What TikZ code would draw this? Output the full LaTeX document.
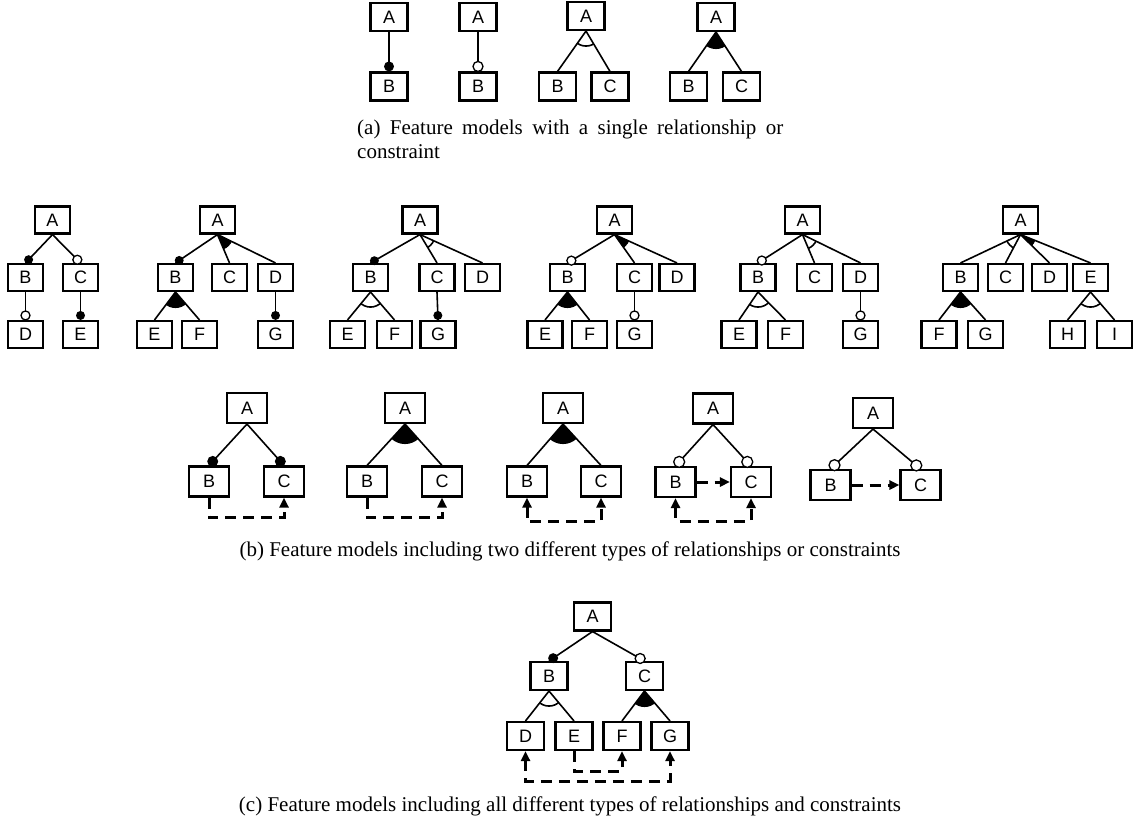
\documentclass[tikz,border=0pt]{standalone}
\usepackage{fontspec}
\setmainfont{Liberation Serif}
\setsansfont{Liberation Sans}
\usetikzlibrary{calc,arrows.meta}
\tikzset{
 fbox/.style={draw, line width=2.1pt, fill=white, inner sep=0pt, minimum width=37pt, minimum height=28pt, font=\fontsize{18}{18}\selectfont\sffamily},
 fboxb/.style={fbox, minimum width=35pt, minimum height=27pt},
 fboxl/.style={fbox, minimum width=40pt, minimum height=30pt},
 edge/.style={line width=1.6pt},
 cons/.style={line width=3pt, dash pattern=on 11pt off 7pt},
 req/.style={cons, -{Triangle[length=10pt,width=9pt]}},
 excl/.style={cons, {Triangle[length=10pt,width=9pt]}-{Triangle[length=10pt,width=9pt]}},
 caption/.style={font=\fontsize{21}{24}\selectfont, inner sep=0pt},
}
\newcommand\FMedge[2]{\draw[edge] (#1.south) -- (#2.north);}
\newcommand\FMmand[3][5pt]{\draw[edge] (#2.south) -- (#3.north); \fill ($(#3.north)!#1!(#2.south)$) circle (#1);}
\newcommand\FMopt[3][5pt]{\draw[edge] (#2.south) -- (#3.north); \filldraw[fill=white, line width=1.3pt] ($(#3.north)!#1!(#2.south)$) circle (#1);}
\newcommand\FMor[4][16pt]{\begin{scope}\clip (#2.south) circle (#1); \fill (#2.south) -- (#3.north) -- (#4.north) -- cycle; \end{scope}}
\newcommand\FMalt[4][15pt]{\begin{scope}\clip (#2.south) -- (#3.north) -- (#4.north) -- cycle; \draw[edge] (#2.south) circle (#1); \end{scope}}
\begin{document}
\begin{tikzpicture}[x=1pt,y=-1pt]
\useasboundingbox (0,0) rectangle (1134,825);
% ---------------- (a)
\node[fbox] (a1A) at (389,17) {A};
\node[fbox] (a1B) at (389,86.5) {B};
\FMmand{a1A}{a1B}
\node[fbox] (a2A) at (478,17) {A};
\node[fbox] (a2B) at (478,86.5) {B};
\FMopt{a2A}{a2B}
\node[fbox] (a3A) at (586,16) {A};
\node[fbox] (a3B) at (557.5,86.5) {B};
\node[fbox] (a3C) at (610,86.5) {C};
\FMalt{a3A}{a3B}{a3C}
\FMedge{a3A}{a3B} \FMedge{a3A}{a3C}
\node[fbox] (a4A) at (716,17) {A};
\node[fbox] (a4B) at (688.5,86.5) {B};
\node[fbox] (a4C) at (741.5,86.5) {C};
\FMor[17pt]{a4A}{a4B}{a4C}
\FMedge{a4A}{a4B} \FMedge{a4A}{a4C}
\node[caption, anchor=base west, text width=426pt, align=justify] (capa) at (357,134)
 {(a) Feature models with a single relationship or \mbox{constraint}};
% ---------------- (b) first row
% b1
\node[fboxb] (b1A) at (52.5,220) {A};
\node[fboxb] (b1B) at (25.5,277.5) {B};
\node[fboxb] (b1C) at (80.5,277.5) {C};
\node[fboxb] (b1D) at (25.5,334.5) {D};
\node[fboxb] (b1E) at (80.5,334.5) {E};
\FMmand[4.5pt]{b1A}{b1B} \FMopt[4.5pt]{b1A}{b1C}
\FMopt[4.5pt]{b1B}{b1D} \FMmand[4.5pt]{b1C}{b1E}
% b2
\node[fboxb] (b2A) at (217.5,220) {A};
\node[fboxb] (b2B) at (175.5,277.5) {B};
\node[fboxb] (b2C) at (229.5,277.5) {C};
\node[fboxb] (b2D) at (275.5,277.5) {D};
\node[fboxb] (b2E) at (154.5,334.5) {E};
\node[fboxb] (b2F) at (199.5,334.5) {F};
\node[fboxb] (b2G) at (275.5,334.5) {G};
\FMmand[4.5pt]{b2A}{b2B}
\FMor{b2A}{b2C}{b2D} \FMedge{b2A}{b2C} \FMedge{b2A}{b2D}
\FMor{b2B}{b2E}{b2F} \FMedge{b2B}{b2E} \FMedge{b2B}{b2F}
\FMmand[4.5pt]{b2D}{b2G}
% b3
\node[fboxb] (b3A) at (420,220) {A};
\node[fboxb] (b3B) at (370.5,277.5) {B};
\node[fboxb] (b3C) at (437,277.5) {C};
\node[fboxb] (b3D) at (482.5,277.5) {D};
\node[fboxb] (b3E) at (347.5,334.5) {E};
\node[fboxb] (b3F) at (394.5,334.5) {F};
\node[fboxb] (b3G) at (438,334.5) {G};
\FMmand[4.5pt]{b3A}{b3B}
\FMalt{b3A}{b3C}{b3D} \FMedge{b3A}{b3C} \FMedge{b3A}{b3D}
\FMalt{b3B}{b3E}{b3F} \FMedge{b3B}{b3E} \FMedge{b3B}{b3F}
\FMmand[4.5pt]{b3C}{b3G}
% b4
\node[fboxb] (b4A) at (614.5,220) {A};
\node[fboxb] (b4B) at (567.5,277.5) {B};
\node[fboxb] (b4C) at (634.5,277.5) {C};
\node[fboxb] (b4D) at (677,277.5) {D};
\node[fboxb] (b4E) at (545,334.5) {E};
\node[fboxb] (b4F) at (589.5,334.5) {F};
\node[fboxb] (b4G) at (634.5,334.5) {G};
\FMopt[4.5pt]{b4A}{b4B}
\FMor{b4A}{b4C}{b4D} \FMedge{b4A}{b4C} \FMedge{b4A}{b4D}
\FMor{b4B}{b4E}{b4F} \FMedge{b4B}{b4E} \FMedge{b4B}{b4F}
\FMopt[4.5pt]{b4C}{b4G}
% b5
\node[fboxb] (b5A) at (802.5,220) {A};
\node[fboxb] (b5B) at (758,277.5) {B};
\node[fboxb] (b5C) at (814.5,277.5) {C};
\node[fboxb] (b5D) at (860.5,277.5) {D};
\node[fboxb] (b5E) at (739,334.5) {E};
\node[fboxb] (b5F) at (785.5,334.5) {F};
\node[fboxb] (b5G) at (860.5,334.5) {G};
\FMopt[4.5pt]{b5A}{b5B}
\FMalt{b5A}{b5C}{b5D} \FMedge{b5A}{b5C} \FMedge{b5A}{b5D}
\FMalt{b5B}{b5E}{b5F} \FMedge{b5B}{b5E} \FMedge{b5B}{b5F}
\FMopt[4.5pt]{b5D}{b5G}
% b6
\node[fboxb] (b6A) at (1020.5,220) {A};
\node[fboxb] (b6B) at (960.5,277.5) {B};
\node[fboxb] (b6C) at (1005.5,277.5) {C};
\node[fboxb] (b6D) at (1049.5,277.5) {D};
\node[fboxb] (b6E) at (1090.5,277.5) {E};
\node[fboxb] (b6F) at (939,334.5) {F};
\node[fboxb] (b6G) at (985.5,334.5) {G};
\node[fboxb] (b6H) at (1067.5,334.5) {H};
\node[fboxb] (b6I) at (1114.5,334.5) {I};
\FMalt{b6A}{b6B}{b6C} \FMedge{b6A}{b6B} \FMedge{b6A}{b6C}
\FMor{b6A}{b6D}{b6E} \FMedge{b6A}{b6D} \FMedge{b6A}{b6E}
\FMor{b6B}{b6F}{b6G} \FMedge{b6B}{b6F} \FMedge{b6B}{b6G}
\FMalt{b6E}{b6H}{b6I} \FMedge{b6E}{b6H} \FMedge{b6E}{b6I}
% ---------------- (b) second row
% c1
\node[fboxl] (c1A) at (247,408) {A};
\node[fboxl] (c1B) at (209,481.5) {B};
\node[fboxl] (c1C) at (284,481.5) {C};
\FMmand[5.5pt]{c1A}{c1B} \FMmand[5.5pt]{c1A}{c1C}
\draw[req] (c1B.south) -- ++(0,20) -| (c1C.south);
% c2
\node[fboxl] (c2A) at (405,408) {A};
\node[fboxl] (c2B) at (367,481.5) {B};
\node[fboxl] (c2C) at (442,481.5) {C};
\FMor[20pt]{c2A}{c2B}{c2C} \FMedge{c2A}{c2B} \FMedge{c2A}{c2C}
\draw[req] (c2B.south) -- ++(0,20) -| (c2C.south);
% c3
\node[fboxl] (c3A) at (563,408) {A};
\node[fboxl] (c3B) at (527,481.5) {B};
\node[fboxl] (c3C) at (601,481.5) {C};
\FMor[20pt]{c3A}{c3B}{c3C} \FMedge{c3A}{c3B} \FMedge{c3A}{c3C}
\draw[excl] (c3B.south) -- ++(0,24) -| (c3C.south);
% c4
\node[fboxl] (c4A) at (713,408.5) {A};
\node[fboxl] (c4B) at (675.5,482) {B};
\node[fboxl] (c4C) at (751,482) {C};
\FMopt[5.5pt]{c4A}{c4B} \FMopt[5.5pt]{c4A}{c4C}
\draw[req] (c4B.east) -- (c4C.west);
\draw[excl] (c4B.south) -- ++(0,23) -| (c4C.south);
% c5
\node[fboxl] (c5A) at (873,413) {A};
\node[fboxl] (c5B) at (830.5,485) {B};
\node[fboxl] (c5C) at (920.5,485) {C};
\FMopt[5.5pt]{c5A}{c5B} \FMopt[5.5pt]{c5A}{c5C}
\draw[req] (c5B.east) -- (c5C.west);
\node[caption, anchor=base] (capb) at (570,556) {(b) Feature models including two different types of relationships or constraints};
% ---------------- (c)
\node[fbox] (dA) at (592.5,616.5) {A};
\node[fbox] (dB) at (549,676) {B};
\node[fbox] (dC) at (644.5,676) {C};
\node[fbox] (dD) at (525.5,736) {D};
\node[fbox] (dE) at (574,736) {E};
\node[fbox] (dF) at (622,736) {F};
\node[fbox] (dG) at (670,736) {G};
\FMmand{dA}{dB} \FMopt{dA}{dC}
\FMalt{dB}{dD}{dE} \FMedge{dB}{dD} \FMedge{dB}{dE}
\FMor{dC}{dF}{dG} \FMedge{dC}{dF} \FMedge{dC}{dG}
\draw[req] (dE.south) -- ++(0,20) -| (dF.south);
\draw[excl] (dD.south) -- ++(0,30) -| (dG.south);
\node[caption, anchor=base] (capc) at (570,811) {(c) Feature models including all different types of relationships and constraints};
\end{tikzpicture}
\end{document}
